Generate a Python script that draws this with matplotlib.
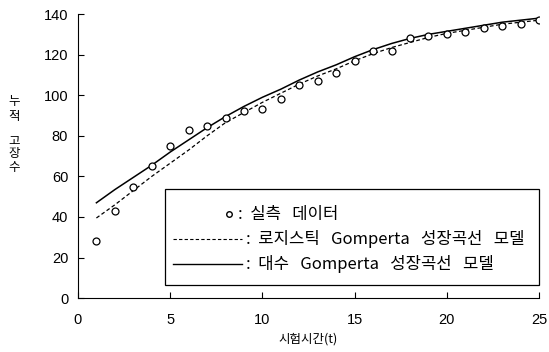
import matplotlib
matplotlib.use("Agg")
import matplotlib.pyplot as plt
from matplotlib.lines import Line2D
from matplotlib.patches import Rectangle

plt.rcParams['font.family'] = ['Noto Sans CJK KR', 'DejaVu Sans']

# test time (t)
t = list(range(1, 26))
# observed cumulative failures
observed = [28, 43, 55, 65, 75, 83, 85, 89, 92, 93, 98, 105, 107, 111, 117,
            122, 122, 128, 129, 130, 131, 133, 134, 135, 137]
# logistic Gompertz growth curve model
logistic_model = [39.5, 46, 53, 60, 66.5, 73, 80, 86.5, 91.5, 96.5, 101, 105.5,
                  109.5, 113, 117, 120.5, 123.5, 126, 128.5, 130.5, 132, 133.5,
                  135, 136, 137]
# log Gompertz growth curve model
log_model = [47, 53.5, 59.5, 65.5, 72, 78, 84, 89.5, 94.5, 99, 103, 107.5, 111.5,
             115, 119, 122.5, 125.5, 128, 130, 131.5, 133, 134.5, 136, 137, 138]

legend_labels = [":  실측   데이터",
                 ":  로지스틱   Gomperta   성장곡선   모델",
                 ":  대수   Gomperta   성장곡선   모델"]

fig = plt.figure(figsize=(5.49, 3.52), dpi=100)
ax = fig.add_axes([0.142, 0.153, 0.840, 0.807])

ax.plot(t, log_model, color='black', linewidth=1.1)
ax.plot(t, logistic_model, color='black', linewidth=0.9, linestyle=(0, (3, 2)))
ax.plot(t, observed, linestyle='none', marker='o', markersize=5,
        markerfacecolor='white', markeredgecolor='black', markeredgewidth=0.9)

ax.set_xlim(0, 25)
ax.set_ylim(0, 140)
ax.set_xticks([0, 5, 10, 15, 20, 25])
ax.set_yticks(range(0, 141, 20))
ax.spines['top'].set_visible(False)
ax.spines['right'].set_visible(False)
ax.tick_params(direction='in', length=4, labelsize=10.5, width=0.8)
ax.tick_params(axis='x', pad=11)
ax.tick_params(axis='y', pad=7)
for lab in ax.get_xticklabels() + ax.get_yticklabels():
    lab.set_family(['Liberation Sans', 'DejaVu Sans'])

ax.set_xlabel("시험시간(t)", fontsize=9, labelpad=4)
fig.text(14 / 549, 1 - 109 / 352, "누\n적", fontsize=9, ha='center', va='center', linespacing=1.2)
fig.text(14 / 549, 1 - 154 / 352, "고\n장\n수", fontsize=9, ha='center', va='center', linespacing=1.0)

# legend box drawn by hand
ax.add_patch(Rectangle((0.189, 0.046), 0.811, 0.338, transform=ax.transAxes,
                       fill=True, facecolor='white', edgecolor='black',
                       linewidth=0.9, zorder=3, clip_on=False))
rows = [0.296, 0.208, 0.120]
ax.add_line(Line2D([0.328], [rows[0]], transform=ax.transAxes, marker='o',
                   markersize=4, markerfacecolor='white', markeredgecolor='black',
                   linestyle='none', zorder=4))
ax.add_line(Line2D([0.206, 0.356], [rows[1], rows[1]], transform=ax.transAxes,
                   color='black', linewidth=0.8, linestyle=(0, (3, 2)), zorder=4))
ax.add_line(Line2D([0.206, 0.356], [rows[2], rows[2]], transform=ax.transAxes,
                   color='black', linewidth=1.0, zorder=4))
text_x = [0.347, 0.364, 0.364]
for x, y, lab in zip(text_x, rows, legend_labels):
    ax.text(x, y, lab, transform=ax.transAxes, fontsize=12, fontweight='medium',
            va='center', ha='left', zorder=4)

fig.savefig("out.png", dpi=100)
